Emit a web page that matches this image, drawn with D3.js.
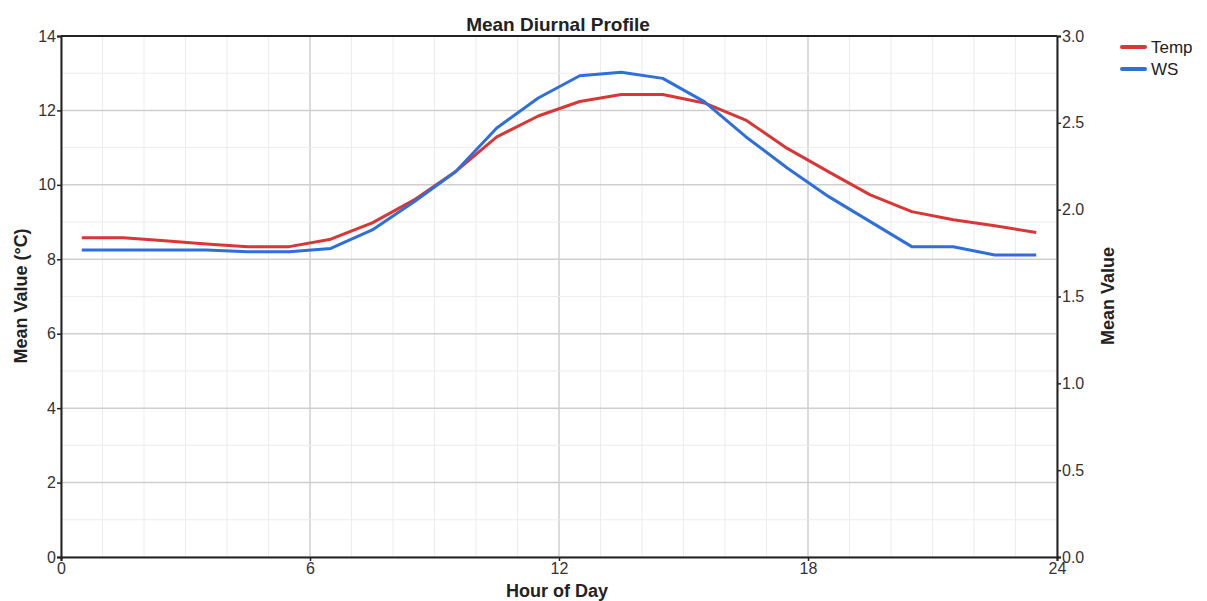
<!DOCTYPE html>
<html><head><meta charset="utf-8">
<script src="https://cdn.jsdelivr.net/npm/d3@7"></script>
<style>
body{margin:0;background:#fff;}
svg{display:block;font-family:Arial,"Liberation Sans",sans-serif;}
</style></head>
<body>
<svg id="c" width="1207" height="601"></svg>
<script>
const hours = [0.5,1.5,2.5,3.5,4.5,5.5,6.5,7.5,8.5,9.5,10.5,11.5,12.5,13.5,14.5,15.5,16.5,17.5,18.5,19.5,20.5,21.5,22.5,23.5];
const tempValues = [8.58,8.58,8.50,8.41,8.34,8.34,8.54,8.98,9.59,10.35,11.29,11.85,12.24,12.43,12.43,12.20,11.74,10.98,10.35,9.73,9.28,9.06,8.90,8.72];
const wsValues = [1.768,1.768,1.768,1.768,1.758,1.758,1.777,1.883,2.044,2.217,2.47,2.643,2.771,2.791,2.756,2.622,2.42,2.24,2.075,1.931,1.787,1.787,1.739,1.739];
const xTicks = [0,6,12,18,24];
const yLeftTicks = [0,2,4,6,8,10,12,14];
const yRightTicks = [0,0.5,1,1.5,2,2.5,3];
const seriesNames = ["Temp","WS"];
const seriesColors = ["#d93636","#2e6fd9"];

const svg = d3.select("#c");
const L=61, R=1057, T=36, B=557;
const x = d3.scaleLinear().domain([0,24]).range([L,R]);
const yL = d3.scaleLinear().domain([0,14]).range([B,T]);
const yR = d3.scaleLinear().domain([0,3]).range([B,T]);

// grid
const g = svg.append("g");
d3.range(0,25,1).forEach(h=>{
  g.append("line").attr("x1",x(h)).attr("x2",x(h)).attr("y1",T).attr("y2",B)
   .attr("stroke", h%6===0 ? "#cfcfcf" : "#ececec").attr("stroke-width", h%6===0?1.5:1);
});
d3.range(0,15,1).forEach(v=>{
  g.append("line").attr("x1",L).attr("x2",R).attr("y1",yL(v)).attr("y2",yL(v))
   .attr("stroke", v%2===0 ? "#cfcfcf" : "#ececec").attr("stroke-width", v%2===0?1.5:1);
});

// axes
const fmtR = d3.format(".1f");
const axL = svg.append("g").attr("transform",`translate(${L},0)`)
  .call(d3.axisLeft(yL).tickValues(yLeftTicks).tickSize(4).tickPadding(1));
const axB = svg.append("g").attr("transform",`translate(0,${B})`)
  .call(d3.axisBottom(x).tickValues(xTicks).tickSize(4).tickPadding(2));
const axR = svg.append("g").attr("transform",`translate(${R},0)`)
  .call(d3.axisRight(yR).tickValues(yRightTicks).tickFormat(fmtR).tickSize(4).tickPadding(1));
[axL,axB,axR].forEach(a=>{
  a.select(".domain").attr("stroke","#222").attr("stroke-width",2);
  a.selectAll(".tick line").attr("stroke","#222").attr("stroke-width",1.5);
  a.selectAll(".tick text").attr("fill","#333").style("font-size","16px");
});
svg.append("line").attr("x1",L).attr("x2",R).attr("y1",T).attr("y2",T).attr("stroke","#222").attr("stroke-width",2);

// lines
const lineL = d3.line().x((d,i)=>x(hours[i])).y(d=>yL(d));
const lineR = d3.line().x((d,i)=>x(hours[i])).y(d=>yR(d));
svg.append("path").attr("d",lineL(tempValues)).attr("fill","none")
  .attr("stroke",seriesColors[0]).attr("stroke-width",3).attr("stroke-linejoin","round");
svg.append("path").attr("d",lineR(wsValues)).attr("fill","none")
  .attr("stroke",seriesColors[1]).attr("stroke-width",3).attr("stroke-linejoin","round");

// titles
svg.append("text").attr("x",558).attr("y",31).attr("text-anchor","middle")
  .style("font-size","19px").style("font-weight","bold").attr("fill","#222").text("Mean Diurnal Profile");
svg.append("text").attr("x",557).attr("y",597).attr("text-anchor","middle")
  .style("font-size","18px").style("font-weight","bold").attr("fill","#222").text("Hour of Day");
svg.append("text").attr("transform","translate(27,296) rotate(-90)").attr("text-anchor","middle")
  .style("font-size","18px").style("font-weight","bold").attr("fill","#222").text("Mean Value (°C)");
svg.append("text").attr("transform","translate(1114,296) rotate(-90)").attr("text-anchor","middle")
  .style("font-size","18px").style("font-weight","bold").attr("fill","#222").text("Mean Value");

// legend
seriesNames.forEach((n,i)=>{
  const yy = 47 + i*22;
  svg.append("line").attr("x1",1122).attr("x2",1145).attr("y1",yy).attr("y2",yy)
    .attr("stroke",seriesColors[i]).attr("stroke-width",4).attr("stroke-linecap","round");
  svg.append("text").attr("x",1151).attr("y",yy+6).style("font-size","17px").attr("fill","#222").text(n);
});
</script>
</body></html>
